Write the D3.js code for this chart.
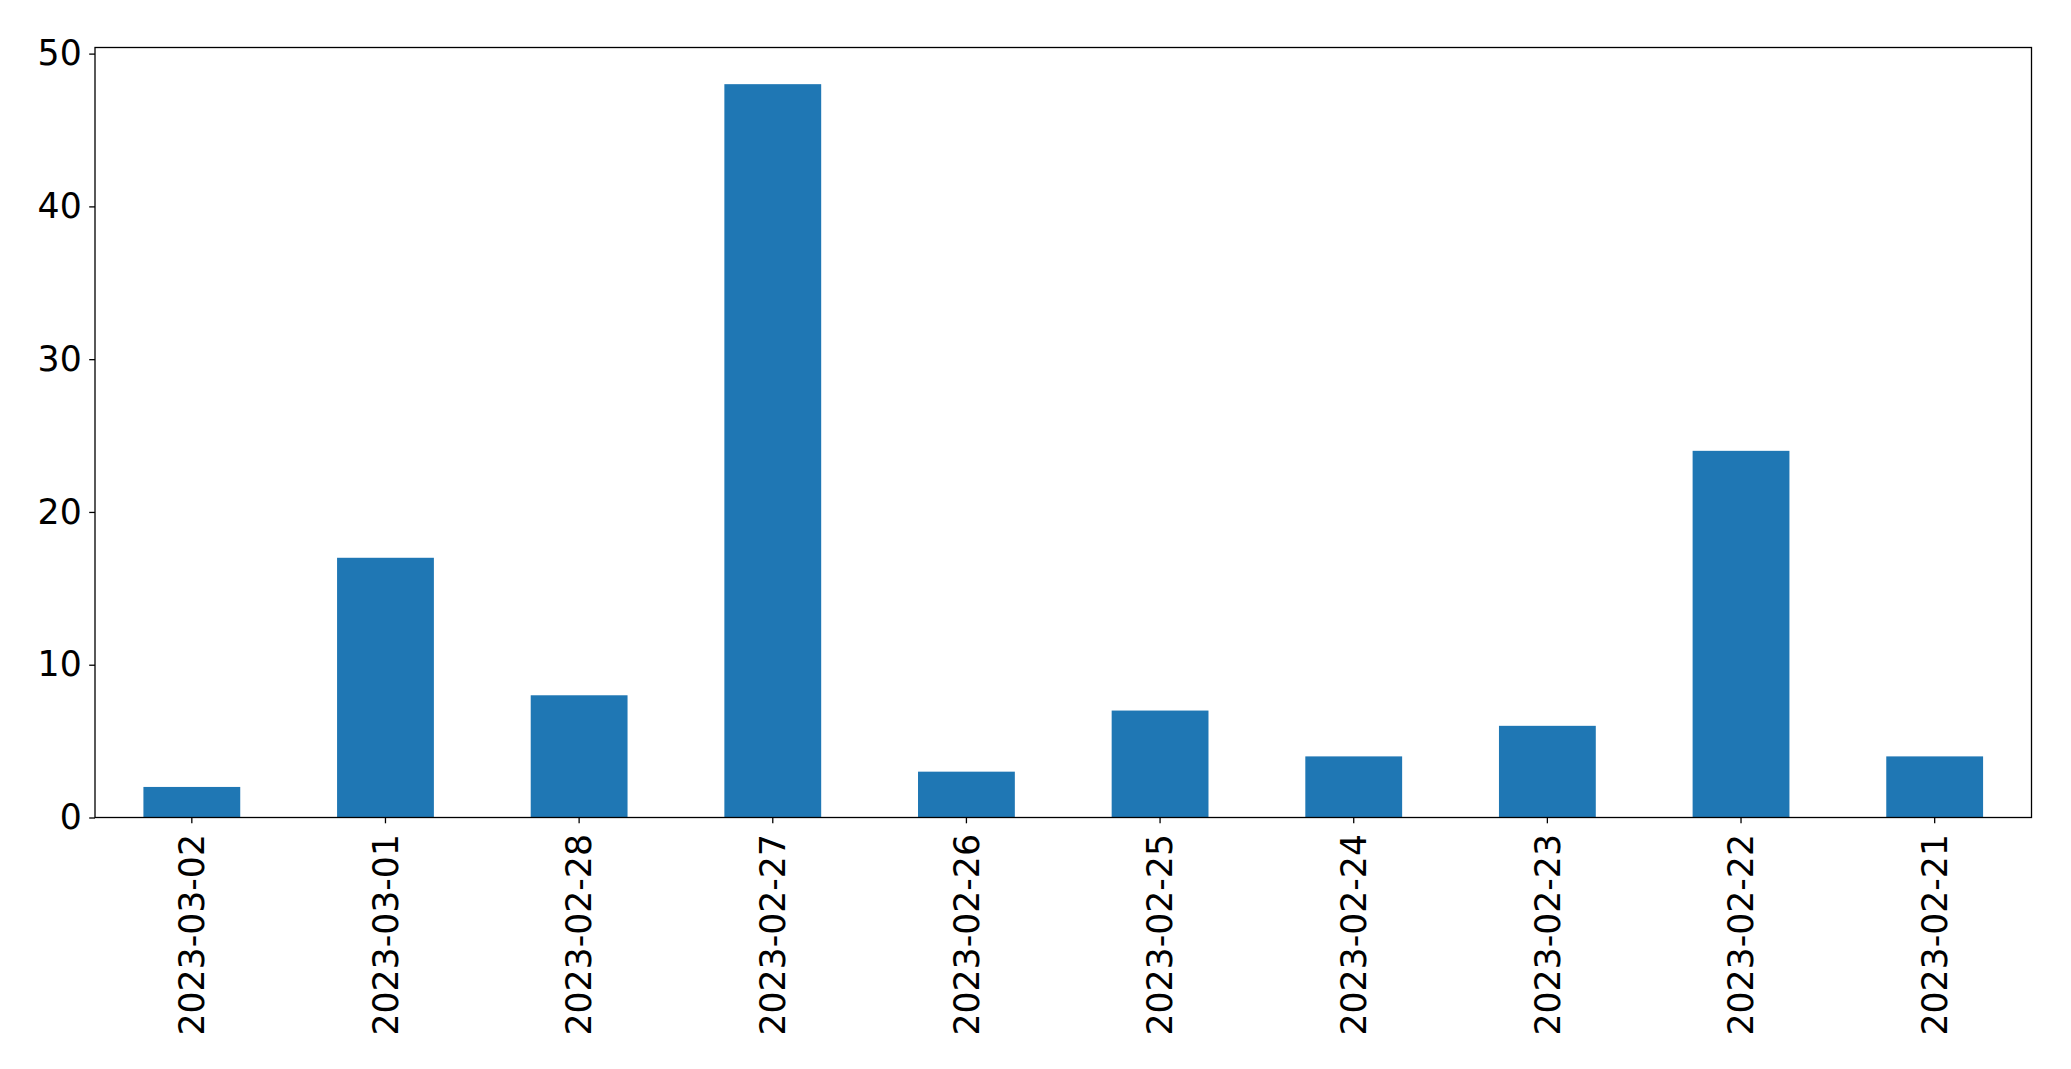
<!DOCTYPE html>
<html><head><meta charset="utf-8">
<script src="https://cdn.jsdelivr.net/npm/d3@7"></script>
<style>body{margin:0;background:#fff;} svg{display:block;}</style>
</head><body>
<svg id="chart" width="2071" height="1069"></svg>
<script>
const categories = ["2023-03-02","2023-03-01","2023-02-28","2023-02-27","2023-02-26","2023-02-25","2023-02-24","2023-02-23","2023-02-22","2023-02-21"];
const values = [2, 17, 8, 48, 3, 7, 4, 6, 24, 4];
const yTicks = [0, 10, 20, 30, 40, 50];

const W = 2071, H = 1069;
const m = {left: 95, right: W - 2031.5, top: 47.5, bottom: H - 817.5};
const iw = W - m.left - m.right, ih = H - m.top - m.bottom;
const svg = d3.select("#chart");
const g = svg.append("g").attr("transform", `translate(${m.left},${m.top})`);

const x = d3.scaleBand().domain(categories).range([0, iw]).paddingInner(0.5).paddingOuter(0.25);
const y = d3.scaleLinear().domain([0, d3.max(values) * 1.05]).range([ih, 0]);

g.selectAll("rect.bar").data(values).join("rect")
  .attr("class", "bar")
  .attr("x", (d, i) => x(categories[i]))
  .attr("width", x.bandwidth())
  .attr("y", d => y(d))
  .attr("height", d => ih - y(d))
  .attr("fill", "#1f77b4");

const font = "DejaVu Sans, sans-serif";
const fs = 34.7;

const yAxis = g.append("g").call(d3.axisLeft(y).tickValues(yTicks).tickSize(5.8).tickPadding(7.5).tickFormat(d3.format("d")));
yAxis.select(".domain").remove();
yAxis.selectAll("line").attr("stroke", "#000").attr("stroke-width", 1.3);
yAxis.selectAll("text").attr("font-family", font).attr("font-size", fs).attr("fill", "#000");

const xAxis = g.append("g").attr("transform", `translate(0,${ih})`).call(d3.axisBottom(x).tickSize(5.8).tickPadding(0));
xAxis.select(".domain").remove();
xAxis.selectAll("line").attr("stroke", "#000").attr("stroke-width", 1.3);
xAxis.selectAll("text")
  .attr("font-family", font).attr("font-size", fs).attr("fill", "#000")
  .attr("transform", "rotate(-90)")
  .attr("x", -16.5).attr("y", 0).attr("dy", "0.35em")
  .attr("text-anchor", "end");

g.append("rect").attr("x", 0).attr("y", 0).attr("width", iw).attr("height", ih)
  .attr("fill", "none").attr("stroke", "#000").attr("stroke-width", 1.3);
</script>
</body></html>
